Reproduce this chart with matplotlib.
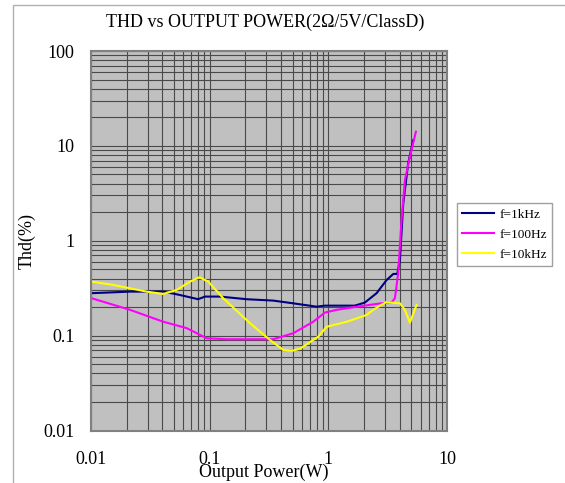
import matplotlib
matplotlib.use("Agg")
import matplotlib.pyplot as plt
from matplotlib.patches import Rectangle

plt.rcParams["font.family"] = ["Liberation Serif", "DejaVu Serif"]

title = "THD vs OUTPUT POWER(2Ω/5V/ClassD)"
x_label = "Output Power(W)"
y_label = "Thd(%)"
x_ticks = [0.01, 0.1, 1, 10]
x_tick_labels = ["0.01", "0.1", "1", "10"]
y_ticks = [0.01, 0.1, 1, 10, 100]
y_tick_labels = ["0.01", "0.1", "1", "10", "100"]

# f=1kHz
p_1k = [0.0101, 0.0213, 0.0407, 0.0562, 0.080, 0.0913, 0.122, 0.205, 0.343, 0.506,
        0.796, 0.935, 1.67, 2.03, 2.55, 3.10, 3.53, 3.81, 4.01, 4.28, 4.71, 5.2]
thd_1k = [0.280, 0.291, 0.291, 0.268, 0.242, 0.258, 0.258, 0.242, 0.234, 0.219,
          0.202, 0.207, 0.207, 0.223, 0.280, 0.386, 0.447, 0.447, 0.628, 2.48, 6.56, 11.5]

# f=100Hz
p_100 = [0.0101, 0.0213, 0.0407, 0.064, 0.0944, 0.139, 0.343, 0.506, 0.746, 0.935,
         1.175, 1.62, 2.24, 3.10, 3.41, 3.64, 3.88, 4.14, 4.42, 4.87, 5.47]
thd_100 = [0.248, 0.187, 0.140, 0.120, 0.0938, 0.0916, 0.0916, 0.106, 0.140, 0.175,
           0.187, 0.199, 0.211, 0.223, 0.223, 0.248, 0.454, 1.66, 4.37, 7.7, 14.1]

# f=10kHz
p_10k = [0.0101, 0.0154, 0.0294, 0.0407, 0.0527, 0.0683, 0.0818, 0.0973, 0.130, 0.219,
         0.322, 0.417, 0.491, 0.577, 0.823, 0.968, 1.43, 2.10, 2.39, 3.05, 4.01, 4.42,
         4.87, 5.54]
thd_10k = [0.371, 0.342, 0.291, 0.275, 0.303, 0.371, 0.412, 0.371, 0.248, 0.135,
           0.0901, 0.0707, 0.069, 0.0727, 0.0976, 0.124, 0.140, 0.165, 0.187, 0.225, 0.219, 0.187,
           0.137, 0.211]

series = [
    ("f=1kHz", p_1k, thd_1k, "#000080"),
    ("f=100Hz", p_100, thd_100, "#ff00ff"),
    ("f=10kHz", p_10k, thd_10k, "#ffff00"),
]

W, H = 565, 483
fig = plt.figure(figsize=(W / 100, H / 100), dpi=100)
ax = fig.add_axes([91 / W, 1 - 430.5 / H, (447 - 91) / W, (430.5 - 51) / H])
ax.set_facecolor("#c0c0c0")

for name, xs, ys, color in series:
    ax.plot(xs, ys, color=color, lw=1.5, label=name)

ax.set_xscale("log")
ax.set_yscale("log")
ax.set_xlim(0.01, 10)
ax.set_ylim(0.01, 100)
ax.grid(True, which="both", color="#4a4a4a", lw=0.8)
ax.set_axisbelow(True)

ax.set_xticks(x_ticks)
ax.set_xticklabels(x_tick_labels)
ax.set_yticks(y_ticks)
ax.set_yticklabels(y_tick_labels)
ax.tick_params(which="both", length=0)
ax.tick_params(axis="x", pad=15, labelsize=13)
ax.tick_params(axis="y", pad=12, labelsize=13)
for s in ax.spines.values():
    s.set_color("#808080")
    s.set_linewidth(1.5)

ax.set_xlabel(x_label, fontsize=13, va="center")
ax.xaxis.set_label_coords((264 - 91) / 356, -(472 - 430.5) / 379.5)
ax.set_ylabel(y_label, fontsize=13, va="center")
ax.yaxis.set_label_coords((27 - 91) / 356, 0.5)
fig.suptitle(title, x=265 / W, y=1 - 22 / H, va="center", fontsize=13)

ax.legend(loc="upper left", bbox_to_anchor=(457 / W, 1 - 203 / H),
          bbox_transform=fig.transFigure, borderaxespad=0, fancybox=False,
          framealpha=1, edgecolor="#a0a0a0", fontsize=9.5, handlelength=2.4,
          handletextpad=0.4, labelspacing=0.6)

# thin frame around the chart area
fig.patches.append(Rectangle((13 / W, -0.1), 1.2, 1.1 - 5.5 / H,
                             transform=fig.transFigure, fill=False,
                             edgecolor="#b0b0b0", lw=1))

fig.savefig("out.png", dpi=100)
